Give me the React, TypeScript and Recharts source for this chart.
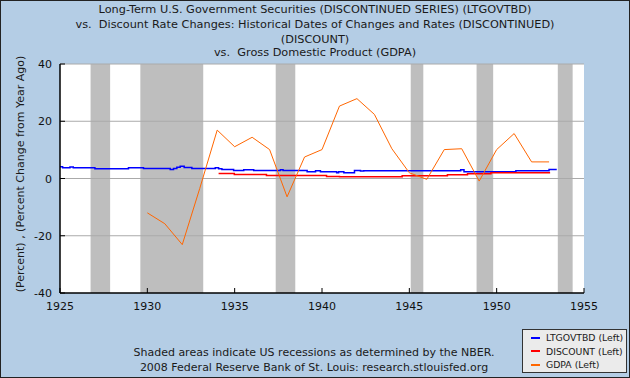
import React from 'react';
import {
    LineChart,
    Line,
    XAxis,
    YAxis,
    ReferenceArea,
    ReferenceLine
} from 'recharts';

// chart frame
const W = 630;
const H = 378;
const PLOT_LEFT = 60;
const PLOT_TOP = 64;
const PLOT_BOTTOM = 293;
const FONT = '"DejaVu Sans", Verdana, sans-serif';

const titleLines = [
    'Long-Term U.S. Government Securities (DISCONTINUED SERIES) (LTGOVTBD)',
    'vs.  Discount Rate Changes: Historical Dates of Changes and Rates (DISCONTINUED)',
    '(DISCOUNT)',
    'vs.  Gross Domestic Product (GDPA)'
];

const xTicks = [1925, 1930, 1935, 1940, 1945, 1950, 1955];
const yTicks = [-40, -20, 0, 20, 40];

// NBER recessions (start, end as year fractions)
const recessionStarts = [1926.75, 1929.6, 1937.35, 1945.08, 1948.85, 1953.5];
const recessionEnds = [1927.87, 1933.2, 1938.47, 1945.8, 1949.8, 1954.35];

// LTGOVTBD, percent, step changes
const ltgovDates = [
    1925.0, 1925.15, 1925.57, 1925.76, 1927.0, 1928.92, 1929.78, 1931.31, 1931.5, 1931.69,
    1931.88, 1932.11, 1932.55, 1933.89, 1934.08, 1934.27, 1934.94, 1935.52, 1936.09, 1937.62,
    1937.77, 1939.15, 1939.63, 1939.91, 1940.84, 1940.95, 1941.25, 1941.86, 1942.2, 1942.39,
    1947.94, 1948.13, 1951.1, 1953.0, 1953.44
];
const ltgovValues = [
    4.08, 3.73, 4.0, 3.73, 3.38, 3.73, 3.5, 3.15, 3.5, 3.9,
    4.31, 3.85, 3.5, 3.73, 3.38, 3.15, 2.8, 3.03, 2.8, 3.03,
    2.8, 2.33, 2.68, 2.33, 1.98, 2.33, 1.98, 2.8, 2.6, 2.68,
    3.03, 2.33, 2.68, 3.15, 3.15
];

// DISCOUNT, percent, step changes
const discountDates = [1934.08, 1934.98, 1936.82, 1940.26, 1941.0, 1944.59, 1947.18, 1948.33, 1949.67, 1953.06];
const discountValues = [1.75, 1.4, 1.05, 0.7, 0.58, 0.93, 1.28, 1.63, 1.98, 1.98];

// GDPA, percent change from year ago
const gdpYears = [
    1930, 1931, 1932, 1933, 1934, 1935, 1936, 1937, 1938, 1939, 1940, 1941,
    1942, 1943, 1944, 1945, 1946, 1947, 1948, 1949, 1950, 1951, 1952, 1953
];
const gdpValues = [
    -12.0, -15.8, -23.1, -3.5, 16.9, 11.1, 14.4, 10.1, -6.4, 7.5, 10.1, 25.3,
    27.9, 22.4, 10.4, 2.0, -0.3, 10.1, 10.4, -0.9, 10.1, 15.7, 5.8, 5.8
];

const ltgovData = ltgovDates.map((d, i) => ({ date: d, value: ltgovValues[i] }));
const discountData = discountDates.map((d, i) => ({ date: d, value: discountValues[i] }));
const gdpData = gdpYears.map((d, i) => ({ date: d, value: gdpValues[i] }));

const legendItems = [
    { label: 'LTGOVTBD (Left)', color: '#0000FF' },
    { label: 'DISCOUNT (Left)', color: '#FF0000' },
    { label: 'GDPA (Left)', color: '#FF6600' }
];

const YTick = (props: any) => {
    const { y, payload } = props;
    return (
        <g>
            <line x1={PLOT_LEFT} x2={PLOT_LEFT + 5} y1={y} y2={y} stroke="#000" />
            <text x={52} y={y + 4} textAnchor="end" fontSize={11} fontFamily={FONT} fill="#111">
                {payload.value}
            </text>
        </g>
    );
};

const XTick = (props: any) => {
    const { x, payload } = props;
    return (
        <g>
            <line x1={x} x2={x} y1={PLOT_BOTTOM} y2={PLOT_BOTTOM - 5} stroke="#000" />
            <text x={x} y={310} textAnchor="middle" fontSize={11} fontFamily={FONT} fill="#111">
                {payload.value}
            </text>
        </g>
    );
};

const App: React.FC = () => {
    return (
        <div style={{
            position: 'absolute', left: 0, top: 0, width: W, height: H,
            background: '#B4CDE5', border: '1px solid #222', boxSizing: 'border-box',
            fontFamily: FONT, color: '#1a1a1a', overflow: 'hidden'
        }}>
            <div style={{ position: 'absolute', left: -1, top: -1 }}>
                <LineChart
                    width={W}
                    height={H}
                    margin={{ top: PLOT_TOP, right: W - 584, bottom: 0, left: 0 }}
                >
                    <XAxis
                        dataKey="date"
                        type="number"
                        domain={[1925, 1955]}
                        ticks={xTicks}
                        allowDataOverflow
                        height={H - PLOT_BOTTOM}
                        axisLine={{ stroke: '#000', strokeWidth: 1.5 }}
                        tickLine={false}
                        tick={<XTick />}
                        interval={0}
                    />
                    <YAxis
                        type="number"
                        domain={[-40, 40]}
                        ticks={yTicks}
                        width={PLOT_LEFT}
                        axisLine={{ stroke: '#000', strokeWidth: 1.5 }}
                        tickLine={false}
                        tick={<YTick />}
                        interval={0}
                    />
                    <ReferenceArea x1={1925} x2={1955} y1={-40} y2={40} fill="#FFFFFF" fillOpacity={1} stroke="none" ifOverflow="hidden" />
                    {recessionStarts.map((s, i) => (
                        <ReferenceArea key={i} x1={s} x2={recessionEnds[i]} y1={-40} y2={40} fill="#BEBEBE" fillOpacity={1} stroke="none" ifOverflow="hidden" />
                    ))}
                    {[40, 20, 0, -20].map(v => (
                        <ReferenceLine key={v} y={v} stroke="#AAAAAA" strokeWidth={1} />
                    ))}
                    <Line data={ltgovData} dataKey="value" type="stepAfter" stroke="#0000FF" strokeWidth={1.5} dot={false} isAnimationActive={false} />
                    <Line data={discountData} dataKey="value" type="stepAfter" stroke="#FF0000" strokeWidth={1.5} dot={false} isAnimationActive={false} />
                    <Line data={gdpData} dataKey="value" type="linear" stroke="#FF6600" strokeWidth={1} dot={false} isAnimationActive={false} />
                </LineChart>
            </div>

            {titleLines.map((t, i) => (
                <div key={i} style={{
                    position: 'absolute', left: 0, width: W - 2, top: [2, 17, 32, 45][i],
                    textAlign: 'center', fontSize: 11.3, lineHeight: '14px', whiteSpace: 'pre'
                }}>{t}</div>
            ))}

            <div style={{
                position: 'absolute', left: 20 - 130, top: 173 - 8, width: 260, height: 16,
                transform: 'rotate(-90deg)', textAlign: 'center', fontSize: 11, lineHeight: '16px', whiteSpace: 'nowrap'
            }}>(Percent) , (Percent Change from Year Ago)</div>

            <div style={{ position: 'absolute', left: 0, width: W - 4, top: 345, textAlign: 'center', fontSize: 11, lineHeight: '14.5px' }}>
                Shaded areas indicate US recessions as determined by the NBER.<br />
                2008 Federal Reserve Bank of St. Louis: research.stlouisfed.org
            </div>

            <div style={{
                position: 'absolute', left: 521, top: 328, width: 105, height: 44,
                background: '#EBEBEB', border: '1px solid #333', boxSizing: 'border-box', padding: '1px 0 0 8px'
            }}>
                {legendItems.map(item => (
                    <div key={item.label} style={{ display: 'flex', alignItems: 'center', height: 13.5, fontSize: 9.3, whiteSpace: 'nowrap' }}>
                        <span style={{ display: 'inline-block', flex: 'none', width: 9, height: 2, background: item.color, marginRight: 6 }} />
                        <span>{item.label}</span>
                    </div>
                ))}
            </div>
        </div>
    );
};

export default App;
